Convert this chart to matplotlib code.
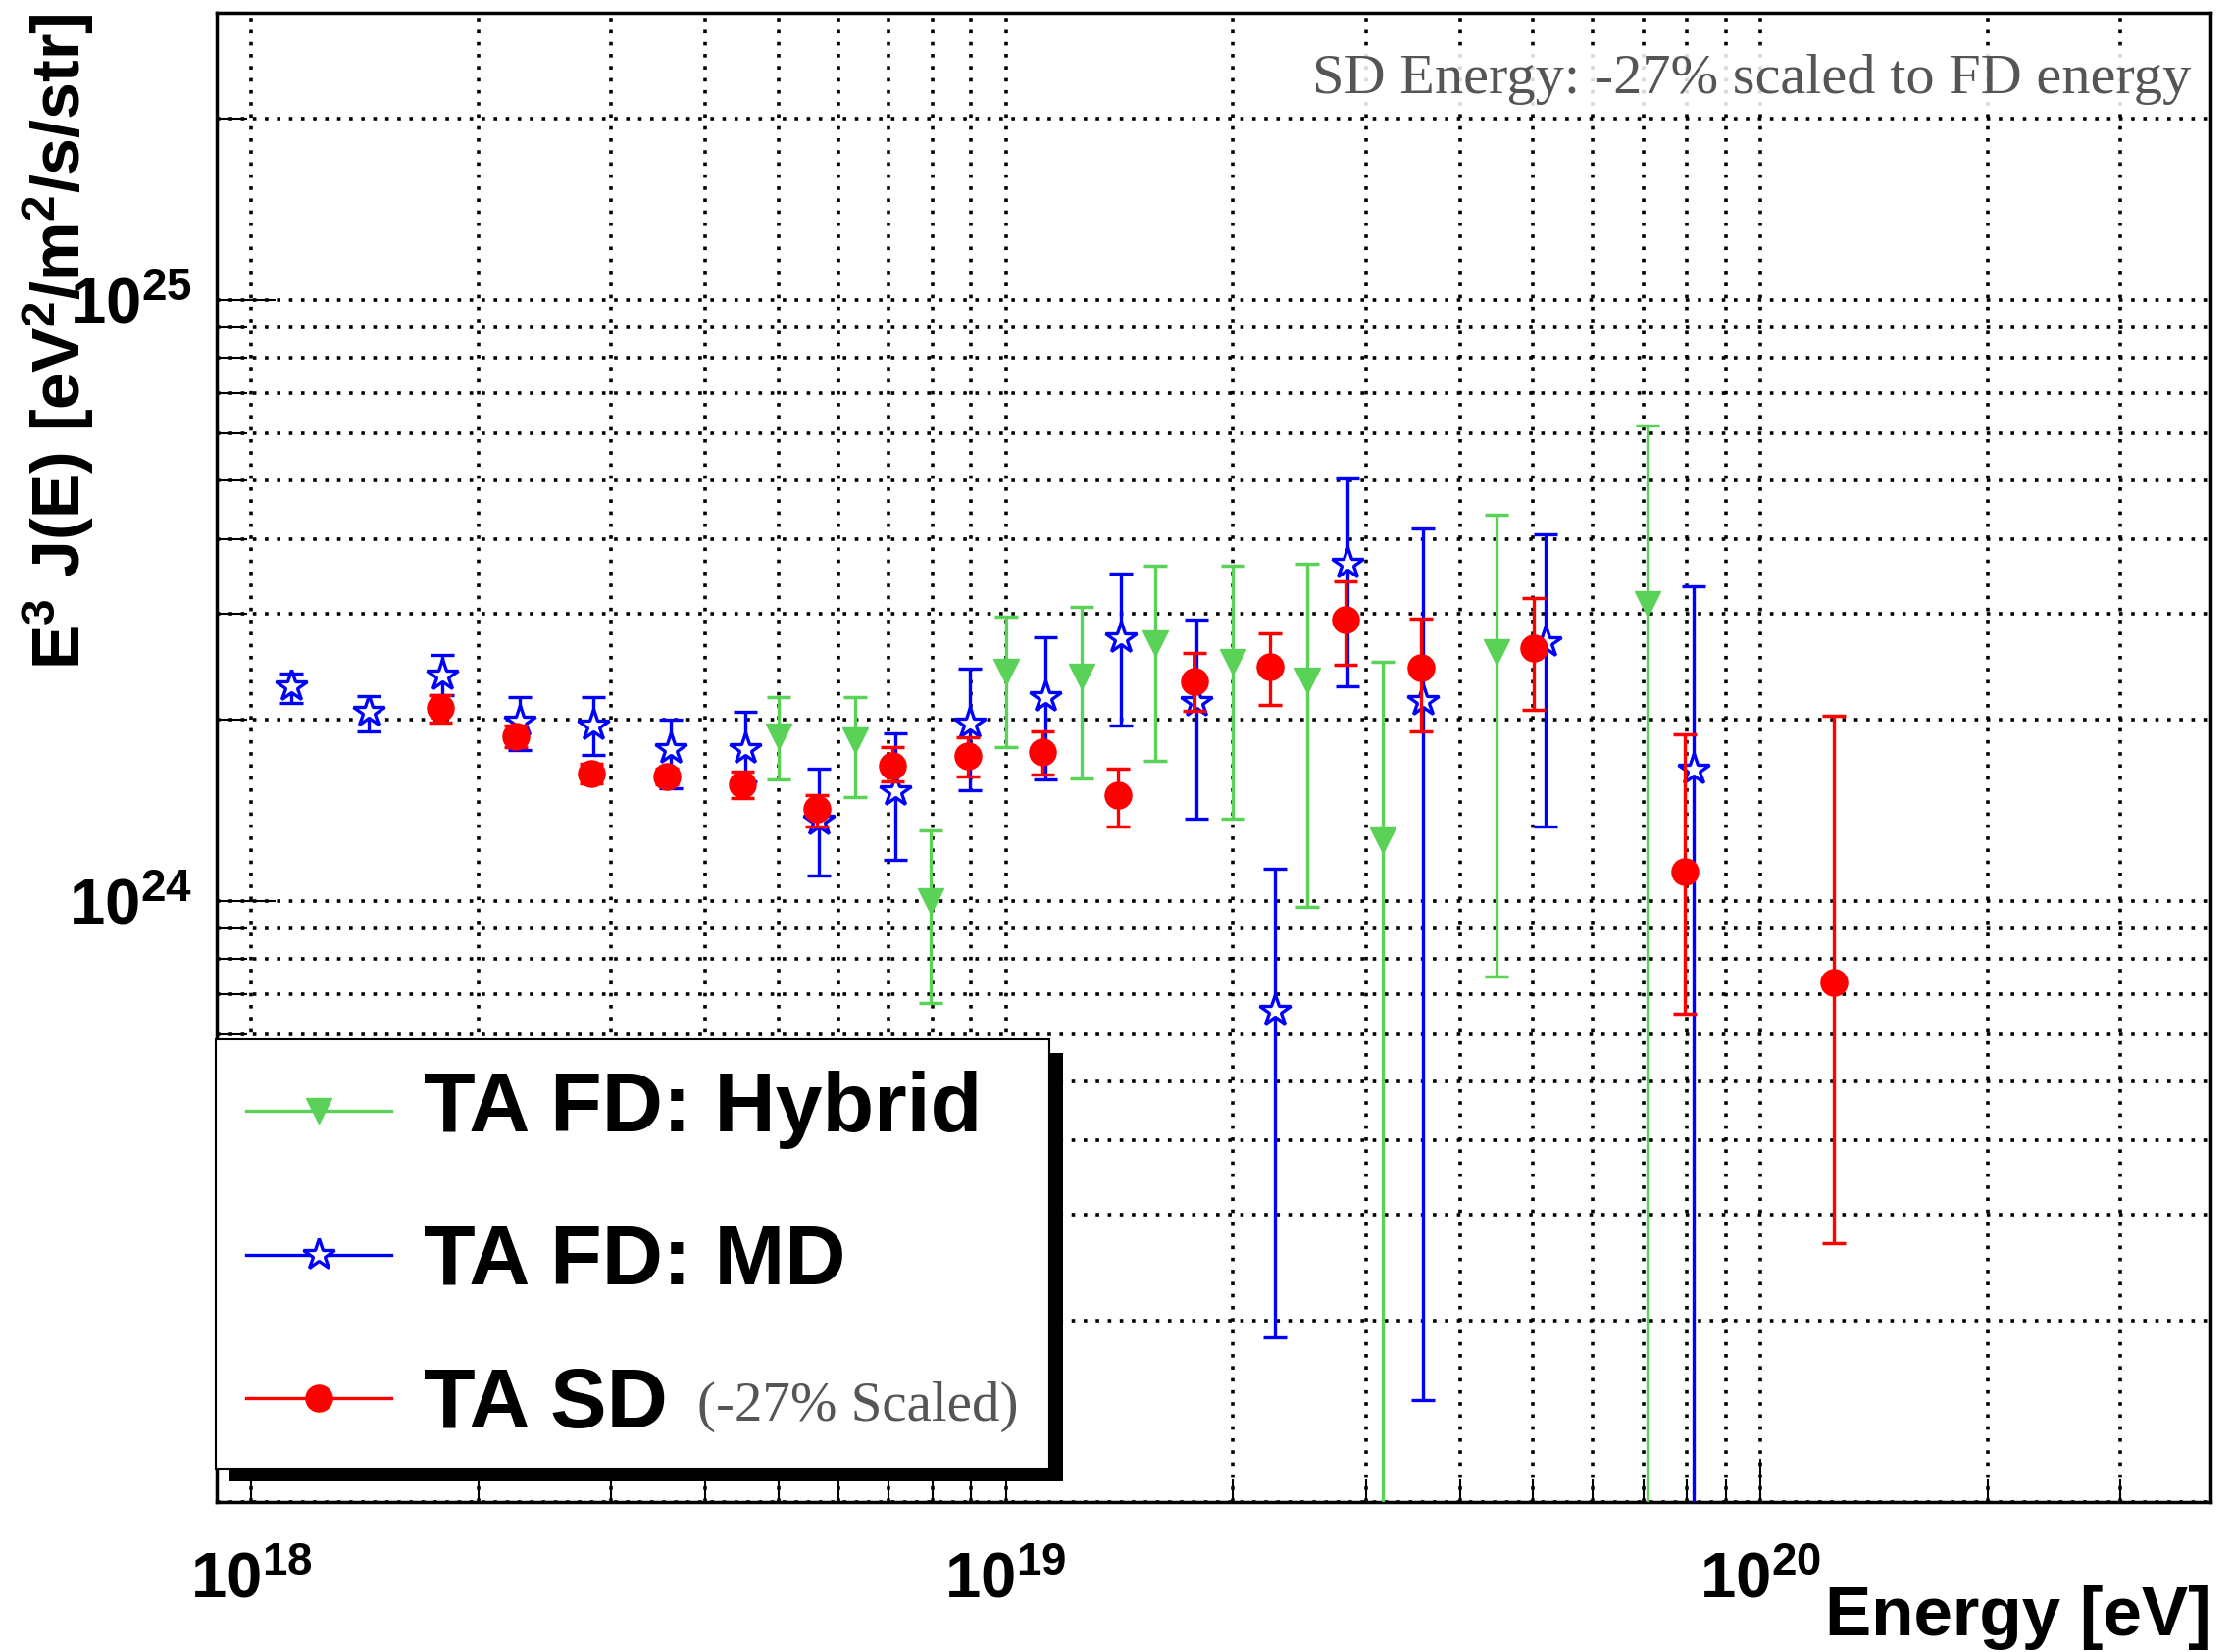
import matplotlib
matplotlib.use("Agg")
import matplotlib.pyplot as plt
from matplotlib.lines import Line2D
from matplotlib.patches import Rectangle
from matplotlib.ticker import LogLocator, FixedLocator, FixedFormatter, NullFormatter
import numpy as np

plt.rcParams['font.family'] = ['Liberation Sans', 'DejaVu Sans']
plt.rcParams['mathtext.fontset'] = 'custom'
plt.rcParams['mathtext.rm'] = 'Liberation Sans:bold'
plt.rcParams['mathtext.bf'] = 'Liberation Sans:bold'
plt.rcParams['mathtext.it'] = 'Liberation Sans:bold'
plt.rcParams['mathtext.default'] = 'rm'

# TA FD: Hybrid
hyb_E = np.array([5.0e18, 6.31e18, 7.94e18, 1.0e19, 1.26e19, 1.58e19, 2.0e19,
                  2.51e19, 3.16e19, 4.47e19, 7.08e19])
hyb_J = np.array([1.88e24, 1.85e24, 1.00e24, 2.41e24, 2.36e24, 2.68e24, 2.50e24,
                  2.33e24, 1.26e24, 2.59e24, 3.12e24])
hyb_lo = np.array([1.59e24, 1.49e24, 6.76e23, 1.80e24, 1.60e24, 1.71e24, 1.37e24,
                   9.77e23, 1e22, 7.48e23, 1e22])
hyb_hi = np.array([2.18e24, 2.18e24, 1.31e24, 2.97e24, 3.08e24, 3.61e24, 3.61e24,
                   3.63e24, 2.50e24, 4.38e24, 6.18e24])

# TA FD: MD
md_E = np.array([1.13e18, 1.43e18, 1.79e18, 2.27e18, 2.84e18, 3.60e18, 4.51e18,
                 5.66e18, 7.13e18, 8.97e18, 1.13e19, 1.42e19, 1.79e19, 2.27e19,
                 2.84e19, 3.57e19, 5.19e19, 8.15e19])
md_J = np.array([2.27e24, 2.06e24, 2.37e24, 1.99e24, 1.96e24, 1.79e24, 1.79e24,
                 1.36e24, 1.52e24, 1.97e24, 2.18e24, 2.73e24, 2.14e24, 6.55e23,
                 3.63e24, 2.15e24, 2.69e24, 1.65e24])
md_lo = np.array([2.13e24, 1.91e24, 2.20e24, 1.78e24, 1.75e24, 1.54e24, 1.58e24,
                  1.10e24, 1.17e24, 1.53e24, 1.59e24, 1.96e24, 1.37e24, 1.88e23,
                  2.27e24, 1.48e23, 1.33e24, 1e22])
md_hi = np.array([2.39e24, 2.19e24, 2.56e24, 2.18e24, 2.18e24, 2.00e24, 2.06e24,
                  1.66e24, 1.90e24, 2.43e24, 2.74e24, 3.50e24, 2.93e24, 1.13e24,
                  5.04e24, 4.16e24, 4.07e24, 3.33e24])

# TA SD (-27% scaled)
sd_E = np.array([1.78e18, 2.24e18, 2.82e18, 3.55e18, 4.47e18, 5.62e18, 7.08e18,
                 8.91e18, 1.12e19, 1.41e19, 1.78e19, 2.24e19, 2.82e19, 3.55e19,
                 5.01e19, 7.94e19, 1.25e20])
sd_J = np.array([2.09e24, 1.88e24, 1.63e24, 1.61e24, 1.56e24, 1.42e24, 1.68e24,
                 1.74e24, 1.77e24, 1.50e24, 2.32e24, 2.45e24, 2.94e24, 2.44e24,
                 2.63e24, 1.12e24, 7.33e23])
sd_lo = np.array([1.98e24, 1.80e24, 1.57e24, 1.56e24, 1.48e24, 1.33e24, 1.58e24,
                  1.61e24, 1.62e24, 1.33e24, 2.07e24, 2.12e24, 2.47e24, 1.91e24,
                  2.08e24, 6.48e23, 2.69e23])
sd_hi = np.array([2.20e24, 1.96e24, 1.69e24, 1.66e24, 1.64e24, 1.50e24, 1.80e24,
                  1.87e24, 1.91e24, 1.66e24, 2.58e24, 2.79e24, 3.40e24, 2.95e24,
                  3.19e24, 1.89e24, 2.03e24])

labels = ["TA FD: Hybrid", "TA FD: MD", "TA SD"]
GREEN = '#5ad257'
BLUE = '#0000ff'
RED = '#ff0000'

W, H = 2277, 1685
fig = plt.figure(figsize=(W / 100, H / 100), dpi=100)


def fx(x):
    return x / W


def fy(y):
    return 1 - y / H


ax = fig.add_axes([fx(221), fy(1532), (2254 - 221) / W, (1532 - 13) / H])
ax.set_xscale('log')
ax.set_yscale('log')
ax.set_xlim(9.0e17, 3.95e20)
ax.set_ylim(1e23, 3e25)

ekw = dict(elinewidth=2.4, capsize=8.5, capthick=2.5, linestyle='none')
ax.errorbar(hyb_E, hyb_J, yerr=[hyb_J - hyb_lo, hyb_hi - hyb_J], fmt='v',
            color=GREEN, ms=19, zorder=3, **ekw)
ax.errorbar(md_E, md_J, yerr=[md_J - md_lo, md_hi - md_J], fmt='*',
            color=BLUE, ms=24, mfc='white', mec=BLUE, mew=2.4, zorder=4, **ekw)
ax.errorbar(sd_E, sd_J, yerr=[sd_J - sd_lo, sd_hi - sd_J], fmt='o',
            color=RED, ms=19.5, zorder=5, **ekw)

# axes, ticks, grid
for s in ax.spines.values():
    s.set_linewidth(2.5)
ax.xaxis.set_major_locator(FixedLocator([1e18, 1e19, 1e20]))
ax.xaxis.set_major_formatter(FixedFormatter([r'$10^{18}$', r'$10^{19}$', r'$10^{20}$']))
ax.xaxis.set_minor_locator(LogLocator(base=10, subs=np.arange(2, 10), numticks=20))
ax.xaxis.set_minor_formatter(NullFormatter())
ax.yaxis.set_major_locator(FixedLocator([1e24, 1e25]))
ax.yaxis.set_major_formatter(FixedFormatter([r'$10^{24}$', r'$10^{25}$']))
ax.yaxis.set_minor_locator(LogLocator(base=10, subs=np.arange(1, 10), numticks=20))
ax.yaxis.set_minor_formatter(NullFormatter())
ax.tick_params(which='both', direction='in', top=False, right=False, width=1.5,
               labelsize=47)
ax.tick_params(axis='x', which='major', length=32, pad=36)
ax.tick_params(axis='x', which='minor', length=16.5)
ax.tick_params(axis='y', which='major', length=43, pad=18)
ax.tick_params(axis='y', which='minor', length=22)
ax.grid(True, which='both', color='black', linestyle=(0, (1, 2.4)), linewidth=2.6)
ax.set_axisbelow(True)

fig.text(fx(2255), fy(1668), 'Energy [eV]', ha='right', va='baseline',
         fontsize=51, fontweight='bold')
fig.text(fx(60), fy(14), r'$E^{3}\ J(E)\ [eV^{2}/m^{2}/s/str]$', rotation=90,
         ha='center', va='top', fontsize=49)
fig.text(fx(2234), fy(95), 'SD Energy: -27% scaled to FD energy', ha='right',
         va='baseline', family='Liberation Serif', fontsize=42, color='#555555',
         bbox=dict(facecolor='white', alpha=0.85, edgecolor='none', pad=4))

# legend box with shadow
fig.add_artist(Rectangle((fx(234), fy(1511)), (1084 - 234) / W, (1511 - 1074) / H,
                         transform=fig.transFigure, facecolor='black',
                         edgecolor='none', zorder=10))
fig.add_artist(Rectangle((fx(220), fy(1498)), (1070 - 220) / W, (1498 - 1060) / H,
                         transform=fig.transFigure, facecolor='white',
                         edgecolor='black', linewidth=1.5, zorder=11))
rows = [1133, 1280, 1426]
baselines = [1154, 1309, 1456]
styles = [dict(marker='v', ms=19, mfc=GREEN, mec=GREEN, color=GREEN),
          dict(marker='*', ms=24, mfc='white', mec=BLUE, mew=2.4, color=BLUE),
          dict(marker='o', ms=19.5, mfc=RED, mec=RED, color=RED)]
for ry, by, lab, st in zip(rows, baselines, labels, styles):
    fig.add_artist(Line2D([fx(251), fx(399)], [fy(ry), fy(ry)], transform=fig.transFigure,
                          color=st['color'], linewidth=2.4, zorder=12))
    mk = {k: v for k, v in st.items() if k != 'color'}
    fig.add_artist(Line2D([fx(325)], [fy(ry)], transform=fig.transFigure,
                          linestyle='none', zorder=13, **mk))
    fig.text(fx(432), fy(by), lab, ha='left', va='baseline', fontsize=62,
             fontweight='bold', zorder=13)
fig.text(fx(711), fy(1449), '(-27% Scaled)', ha='left', va='baseline',
         family='Liberation Serif', fontsize=41, color='#555555', zorder=13)

fig.savefig('out.png', dpi=100)
